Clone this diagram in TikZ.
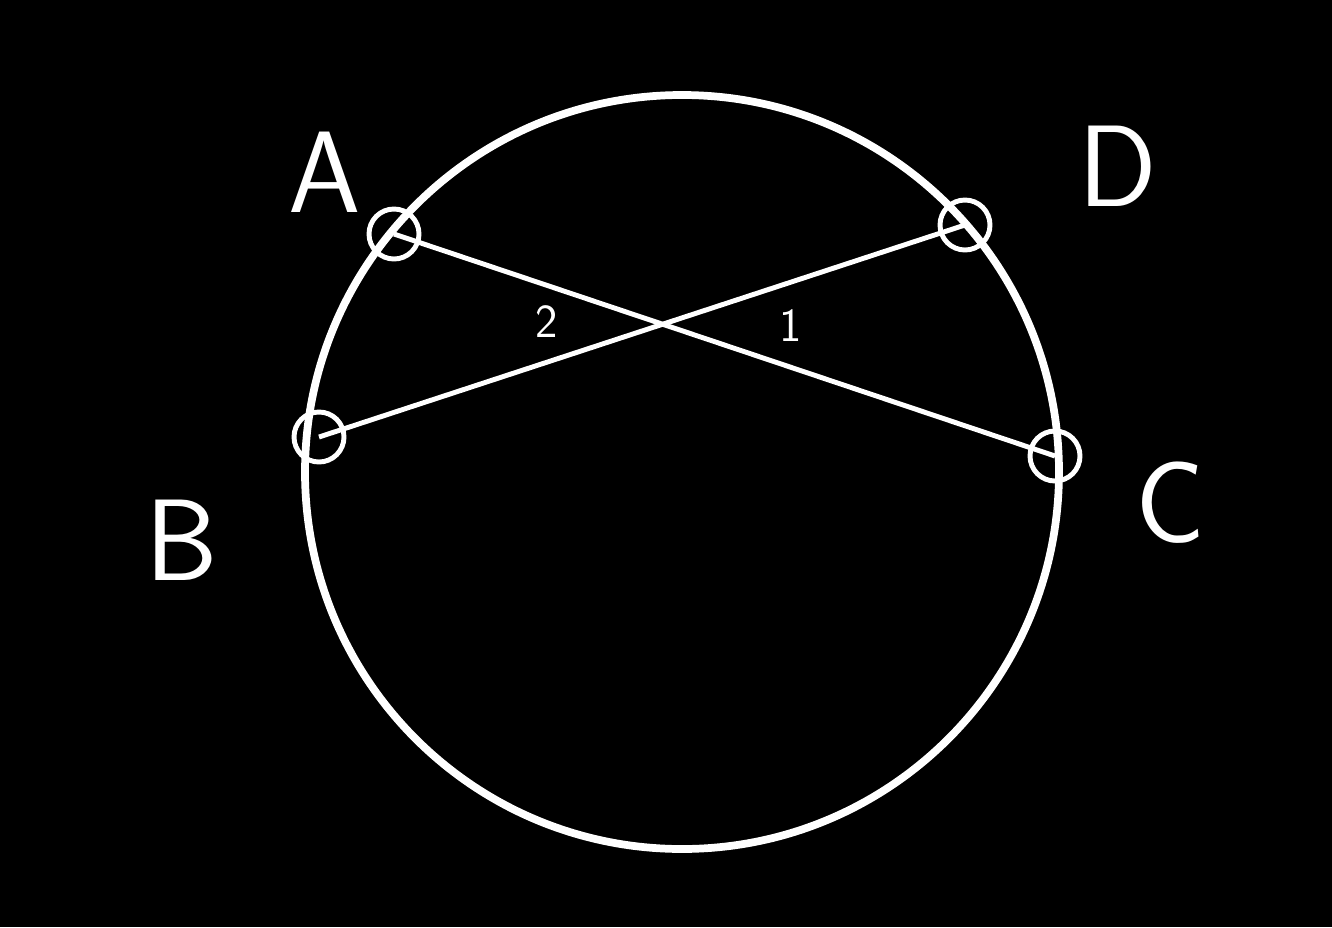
\documentclass[tikz,border=0pt]{standalone}
\usepackage{tikz}
\usetikzlibrary{positioning,calc}

\tikzset{
  chord/.style={white, line width=2.8pt},
  pointmark/.style={white, line width=2.8pt},
  letter/.style={white, font=\sffamily\fontsize{66}{70}\selectfont},
  anglelabel/.style={white, font=\sffamily\fontsize{27}{30}\selectfont}
}

\begin{document}
\begin{tikzpicture}[x=0.02cm, y=-0.02cm]
			% Background
			\fill[black] (0,0) rectangle (1332,927);
			\useasboundingbox (0,0) rectangle (1332,927);
			
			% Circle
			\coordinate (O) at (682,472);
			\draw[white, line width=4.4pt] (O) circle[radius=377];
			
			% Points on the circle
			\coordinate (A) at (394,234);
			\coordinate (D) at (965,225);
			\coordinate (B) at (319,437);
			\coordinate (C) at (1055,456);
			
			% Chords
			\draw[chord] (A) -- (C);
			\draw[chord] (B) -- (D);
			
			% Small circles at the points
			\foreach \p in {A,B,C,D}
				\draw[pointmark] (\p) circle[radius=25];
			
			% Point labels
			\node[letter] (labA) at (325,172) {A};
			\node[letter] (labD) at (1118,166) {D};
			\node[letter] (labB) at (182,540) {B};
			\node[letter] (labC) at (1170,503) {C};
			
			% Angle labels
			\node[anglelabel] (ang2) at (547,322) {2};
			\node[anglelabel] (ang1) at (791,326) {1};
		\end{tikzpicture}
\end{document}
